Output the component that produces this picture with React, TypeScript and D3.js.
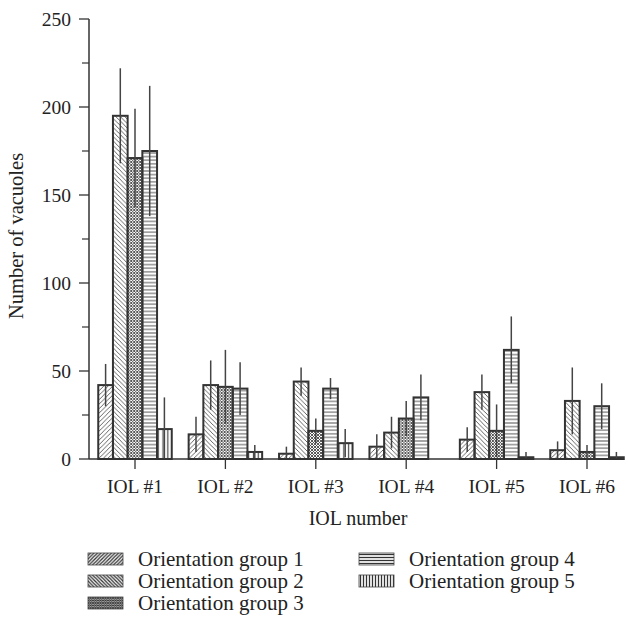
import React from 'react';
import * as d3 from 'd3';

// IOL categories and orientation groups
const iols = ['IOL #1', 'IOL #2', 'IOL #3', 'IOL #4', 'IOL #5', 'IOL #6'];
const groups = ['Orientation group 1', 'Orientation group 2', 'Orientation group 3', 'Orientation group 4', 'Orientation group 5'];

// mean number of vacuoles, one array per IOL (groups 1..5)
const iol1 = [42, 195, 171, 175, 17];
const iol2 = [14, 42, 41, 40, 4];
const iol3 = [3, 44, 16, 40, 9];
const iol4 = [7, 15, 23, 35, 0];
const iol5 = [11, 38, 16, 62, 1];
const iol6 = [5, 33, 4, 30, 1];

// error (± sd)
const err1 = [12, 27, 28, 37, 18];
const err2 = [10, 14, 21, 15, 4];
const err3 = [4, 8, 7, 6, 8];
const err4 = [7, 9, 10, 13, 0];
const err5 = [7, 10, 15, 19, 3];
const err6 = [5, 19, 4, 13, 3];

const yTicks = [0, 50, 100, 150, 200, 250];
const yMinor = [25, 75, 125, 175, 225];

const values = [iol1, iol2, iol3, iol4, iol5, iol6];
const errors = [err1, err2, err3, err4, err5, err6];

const font = '"Liberation Serif", "DejaVu Serif", serif';
const ink = '#333';

const App = () => {
  const width = 628;
  const height = 628;
  const left = 89;
  const top = 19;
  const bottom = 459;
  const axisEnd = 623;

  const x = d3.scaleBand().domain(iols).range([89.8, 632.2]).paddingInner(0).paddingOuter(0);
  const x1 = d3.scaleBand().domain(groups).range([0, 73.5]);
  const y = d3.scaleLinear().domain([0, 250]).range([bottom, top]);
  const off = (x.bandwidth() - x1.range()[1]) / 2;

  const fills = ['url(#p1)', 'url(#p2)', 'url(#p3)', 'url(#p4)', 'url(#p5)'];
  const legendFills = ['url(#l1)', 'url(#l2)', 'url(#l3)', 'url(#l4)', 'url(#l5)'];

  const legendPos = [
    { x: 88, y: 559 }, { x: 88, y: 581 }, { x: 88, y: 603 },
    { x: 359, y: 559 }, { x: 359, y: 581 },
  ];

  return (
    <svg width={width} height={height} style={{ position: 'absolute', left: 0, top: 0, background: '#fff' }}>
      <defs>
        <pattern id="p1" patternUnits="userSpaceOnUse" width="4.5" height="4.5">
          <path d="M-1,1 l2,-2 M0,4.5 l4.5,-4.5 M3.5,5.5 l2,-2" stroke="#555" strokeWidth="0.9" />
        </pattern>
        <pattern id="p2" patternUnits="userSpaceOnUse" width="4.5" height="4.5">
          <path d="M-1,3.5 l2,2 M0,0 l4.5,4.5 M3.5,-1 l2,2" stroke="#555" strokeWidth="0.9" />
        </pattern>
        <pattern id="p3" patternUnits="userSpaceOnUse" width="3" height="3">
          <rect width="3" height="3" fill="#fff" />
          <path d="M0,0 l3,3 M0,3 l3,-3" stroke="#444" strokeWidth="0.9" />
        </pattern>
        <pattern id="p4" patternUnits="userSpaceOnUse" width="4" height="3.6">
          <line x1="0" x2="4" y1="1.8" y2="1.8" stroke="#555" strokeWidth="1" />
        </pattern>
        <pattern id="p5" patternUnits="userSpaceOnUse" width="4.8" height="4">
          <line x1="2.4" x2="2.4" y1="0" y2="4" stroke="#444" strokeWidth="1.2" />
        </pattern>
        <pattern id="l1" patternUnits="userSpaceOnUse" width="3.5" height="3.5">
          <path d="M-1,1 l2,-2 M0,3.5 l3.5,-3.5 M2.5,4.5 l2,-2" stroke="#333" strokeWidth="1.3" />
        </pattern>
        <pattern id="l2" patternUnits="userSpaceOnUse" width="3.5" height="3.5">
          <path d="M-1,2.5 l2,2 M0,0 l3.5,3.5 M2.5,-1 l2,2" stroke="#333" strokeWidth="1.3" />
        </pattern>
        <pattern id="l3" patternUnits="userSpaceOnUse" width="2.5" height="2.5">
          <rect width="2.5" height="2.5" fill="#fff" />
          <path d="M0,0 l2.5,2.5 M0,2.5 l2.5,-2.5" stroke="#333" strokeWidth="1" />
        </pattern>
        <pattern id="l4" patternUnits="userSpaceOnUse" width="4" height="3">
          <line x1="0" x2="4" y1="1.5" y2="1.5" stroke="#333" strokeWidth="1.3" />
        </pattern>
        <pattern id="l5" patternUnits="userSpaceOnUse" width="3" height="4">
          <line x1="1.5" x2="1.5" y1="0" y2="4" stroke="#333" strokeWidth="1.3" />
        </pattern>
      </defs>

      {/* bars */}
      {values.map((vals, i) => (
        <g key={iols[i]} transform={`translate(${(x(iols[i]) as number) + off},0)`}>
          {vals.map((v, j) => (
            <rect key={j} x={x1(groups[j])} y={y(v)} width={x1.bandwidth()} height={bottom - y(v)}
              fill={fills[j]} stroke={ink} strokeWidth={2} />
          ))}
          {vals.map((v, j) => {
            const e = errors[i][j];
            if (e === 0) return null;
            const cx = (x1(groups[j]) as number) + x1.bandwidth() / 2;
            return (
              <line key={'e' + j} x1={cx} x2={cx} y1={y(Math.max(0, v - e))} y2={y(v + e)}
                stroke="#444" strokeWidth={1.5} />
            );
          })}
        </g>
      ))}

      {/* y axis */}
      <line x1={left} x2={left} y1={top} y2={bottom} stroke={ink} strokeWidth={1.5} />
      {yTicks.map(t => (
        <g key={t}>
          <line x1={left - 10} x2={left} y1={y(t)} y2={y(t)} stroke={ink} strokeWidth={1.3} />
          <text x={left - 18} y={y(t)} dy="0.35em" textAnchor="end" fontFamily={font} fontSize={19.5} fill="#222">{t}</text>
        </g>
      ))}
      {yMinor.map(t => (
        <line key={t} x1={left - 7} x2={left} y1={y(t)} y2={y(t)} stroke={ink} strokeWidth={1.2} />
      ))}
      <text transform={`translate(23,${236}) rotate(-90)`} textAnchor="middle"
        fontFamily={font} fontSize={20.5} fill="#222">Number of vacuoles</text>

      {/* x axis */}
      <line x1={left} x2={axisEnd} y1={bottom} y2={bottom} stroke={ink} strokeWidth={1.5} />
      {iols.map(c => {
        const cx = (x(c) as number) + x.bandwidth() / 2;
        return (
          <g key={c}>
            <line x1={cx} x2={cx} y1={bottom} y2={bottom + 10} stroke={ink} strokeWidth={1.3} />
            <text x={cx} y={bottom + 34} textAnchor="middle" fontFamily={font} fontSize={19.5} fill="#222">{c}</text>
          </g>
        );
      })}
      <text x={358} y={525} textAnchor="middle" fontFamily={font} fontSize={20} fill="#222">IOL number</text>

      {/* legend */}
      {groups.map((g, i) => (
        <g key={g} transform={`translate(${legendPos[i].x},${legendPos[i].y})`}>
          <rect x={0} y={-6} width={35} height={12} fill={legendFills[i]} stroke="#444" strokeWidth={0.8} />
          <text x={50} y={0} dy="0.35em" fontFamily={font} fontSize={21} fill="#222">{g}</text>
        </g>
      ))}
    </svg>
  );
};

export default App;
